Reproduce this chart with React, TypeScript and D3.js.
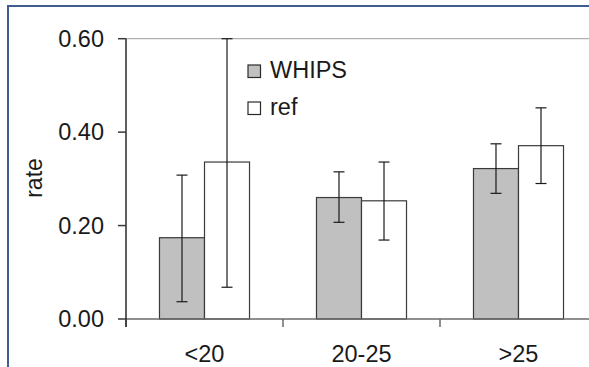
import * as React from "react";
import * as d3 from "d3";

const categories = ["<20", "20-25", ">25"];
const seriesNames = ["WHIPS", "ref"];
const whipsRate = [0.174, 0.26, 0.322];
const whipsLow = [0.037, 0.207, 0.269];
const whipsHigh = [0.308, 0.315, 0.375];
const refRate = [0.336, 0.253, 0.371];
const refLow = [0.068, 0.169, 0.29];
const refHigh = [0.6, 0.336, 0.452];
const yTicks = [0, 0.2, 0.4, 0.6];

const W = 589;
const H = 367;
const FONT = "'Liberation Sans', Arial, sans-serif";
const FS = 23.5;
const fills = ["#c0c0c0", "#ffffff"];

export default function App() {
  const ref = React.useRef<SVGSVGElement>(null);

  React.useEffect(() => {
    const svg = d3.select(ref.current);
    svg.selectAll("*").remove();

    const left = 126;
    const step = 157;
    const x = d3
      .scaleBand<string>()
      .domain(categories)
      .range([left, left + step * categories.length])
      .padding(0);
    const xs = d3
      .scaleBand<string>()
      .domain(seriesNames)
      .range([0, x.bandwidth()])
      .paddingInner(0)
      .paddingOuter(0.744);
    const y = d3.scaleLinear().domain([0, 0.6]).range([319, 38.7]);

    // outer frame
    svg
      .append("rect")
      .attr("x", 8)
      .attr("y", 6)
      .attr("width", W + 20)
      .attr("height", H + 20)
      .attr("fill", "white")
      .attr("stroke", "#3f5e8e")
      .attr("stroke-width", 2);

    // top line of plot area
    svg
      .append("line")
      .attr("x1", left)
      .attr("x2", W + 10)
      .attr("y1", y(0.6))
      .attr("y2", y(0.6))
      .attr("stroke", "#b0b0b0")
      .attr("stroke-width", 1.2);

    const rows = categories.map((c, i) => ({
      cat: c,
      vals: [
        { s: seriesNames[0], v: whipsRate[i], lo: whipsLow[i], hi: whipsHigh[i] },
        { s: seriesNames[1], v: refRate[i], lo: refLow[i], hi: refHigh[i] },
      ],
    }));

    const g = svg
      .selectAll("g.cat")
      .data(rows)
      .enter()
      .append("g")
      .attr("class", "cat")
      .attr("transform", (d) => `translate(${x(d.cat)},0)`);

    g.selectAll("rect")
      .data((d) => d.vals)
      .enter()
      .append("rect")
      .attr("x", (d) => xs(d.s)!)
      .attr("y", (d) => y(d.v))
      .attr("width", xs.bandwidth())
      .attr("height", (d) => y(0) - y(d.v))
      .attr("fill", (d, i) => fills[i])
      .attr("stroke", "#3a3a3a")
      .attr("stroke-width", 1.2);

    const err = g
      .selectAll("g.err")
      .data((d) => d.vals)
      .enter()
      .append("g")
      .attr("class", "err")
      .attr("stroke", "#1a1a1a")
      .attr("stroke-width", 1.2);
    const cx = (d: any) => xs(d.s)! + xs.bandwidth() / 2;
    err
      .append("line")
      .attr("x1", cx)
      .attr("x2", cx)
      .attr("y1", (d) => y(d.lo))
      .attr("y2", (d) => y(d.hi));
    err
      .append("line")
      .attr("x1", (d) => cx(d) - 5.5)
      .attr("x2", (d) => cx(d) + 5.5)
      .attr("y1", (d) => y(d.lo))
      .attr("y2", (d) => y(d.lo));
    err
      .append("line")
      .attr("x1", (d) => cx(d) - 5.5)
      .attr("x2", (d) => cx(d) + 5.5)
      .attr("y1", (d) => y(d.hi))
      .attr("y2", (d) => y(d.hi));

    // x axis
    svg
      .append("line")
      .attr("x1", left)
      .attr("x2", W + 10)
      .attr("y1", y(0))
      .attr("y2", y(0))
      .attr("stroke", "#6a6a6a")
      .attr("stroke-width", 1.5);
    const bounds = categories.map((c) => x(c)!).concat([x.range()[1]]);
    svg
      .selectAll("line.xtick")
      .data(bounds)
      .enter()
      .append("line")
      .attr("x1", (d) => d)
      .attr("x2", (d) => d)
      .attr("y1", y(0))
      .attr("y2", y(0) + 8)
      .attr("stroke", "#6a6a6a")
      .attr("stroke-width", 1.5);
    svg
      .selectAll("text.xlab")
      .data(categories)
      .enter()
      .append("text")
      .attr("x", (d) => x(d)! + x.bandwidth() / 2)
      .attr("y", 361.5)
      .attr("text-anchor", "middle")
      .attr("font-family", FONT)
      .attr("font-size", FS)
      .attr("fill", "#1a1a1a")
      .text((d) => d);

    // y axis
    svg
      .append("line")
      .attr("x1", left)
      .attr("x2", left)
      .attr("y1", y(0.6))
      .attr("y2", y(0) + 8)
      .attr("stroke", "#2a2a2a")
      .attr("stroke-width", 1.5);
    svg
      .selectAll("line.ytick")
      .data(yTicks)
      .enter()
      .append("line")
      .attr("x1", left - 8)
      .attr("x2", left)
      .attr("y1", (d) => y(d))
      .attr("y2", (d) => y(d))
      .attr("stroke", "#3a3a3a")
      .attr("stroke-width", 1.5);
    svg
      .selectAll("text.ylab")
      .data(yTicks)
      .enter()
      .append("text")
      .attr("x", 104)
      .attr("y", (d) => y(d) + 8.3)
      .attr("text-anchor", "end")
      .attr("font-family", FONT)
      .attr("font-size", FS)
      .attr("fill", "#1a1a1a")
      .text((d) => d3.format(".2f")(d));

    svg
      .append("text")
      .attr("transform", "translate(42,178) rotate(-90)")
      .attr("text-anchor", "middle")
      .attr("font-family", FONT)
      .attr("font-size", 23)
      .attr("fill", "#1a1a1a")
      .text("rate");

    // legend
    const lg = svg
      .selectAll("g.leg")
      .data(seriesNames)
      .enter()
      .append("g")
      .attr("transform", (d, i) => `translate(248,${65 + i * 37})`);
    lg.append("rect")
      .attr("width", 12.5)
      .attr("height", 12.5)
      .attr("fill", (d, i) => fills[i])
      .attr("stroke", "#2a2a2a")
      .attr("stroke-width", 1.2);
    lg.append("text")
      .attr("x", 22)
      .attr("y", 12.8)
      .attr("font-family", FONT)
      .attr("font-size", FS)
      .attr("fill", "#1a1a1a")
      .text((d) => d);
  }, []);

  return (
    <svg
      ref={ref}
      width={W}
      height={H}
      style={{ position: "absolute", left: 0, top: 0, background: "white" }}
    />
  );
}
